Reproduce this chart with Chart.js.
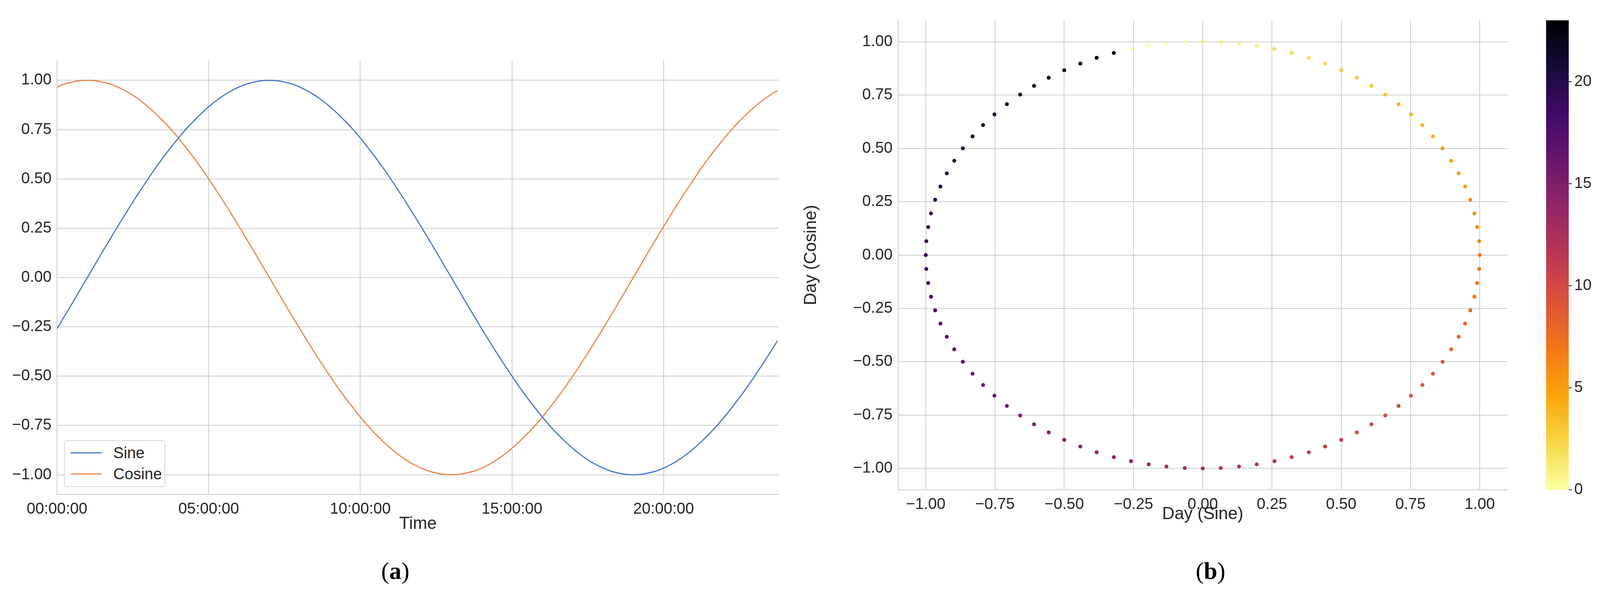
<!DOCTYPE html>
<html>
<head>
<meta charset="utf-8">
<script src="https://cdn.jsdelivr.net/npm/chart.js@4"></script>
<style>
  body { margin: 0; background: #fff; width: 4099px; height: 1517px; position: relative; overflow: hidden; font-family: "Liberation Sans", Arial, sans-serif; }
  canvas { position: absolute; }
  .cap { position: absolute; font-family: "Liberation Serif", "DejaVu Serif", serif; font-size: 62px; color: #000; transform: translateX(-50%); }
  #legend { position: absolute; left: 164px; top: 1126px; width: 255px; height: 116px; border: 2px solid #d6d6d6; border-radius: 6px; background: #fff; font-size: 40px; color: #262626; }
  .row { position: absolute; left: 15px; height: 40px; display: flex; align-items: center; }
  .row span.ln { display: inline-block; width: 79px; height: 3px; margin-right: 30px; }
</style>
</head>
<body>
<canvas id="left" style="left:0;top:0"></canvas>
<canvas id="right" style="left:2050px;top:0"></canvas>
<canvas id="cbar" style="left:3940px;top:0"></canvas>
<div id="legend">
  <div class="row" style="top:10px"><span class="ln" style="background:#4878d0"></span>Sine</div>
  <div class="row" style="top:64px"><span class="ln" style="background:#ee854a"></span>Cosine</div>
</div>
<div class="cap" style="left:1012px;top:1425px">(<b>a</b>)</div>
<div class="cap" style="left:3099px;top:1425px">(<b>b</b>)</div>
<script>
// time of day in hours, one sample every 15 minutes
const hours = [0,.25,.5,.75,1,1.25,1.5,1.75,2,2.25,2.5,2.75,3,3.25,3.5,3.75,4,4.25,4.5,4.75,5,5.25,5.5,5.75,
  6,6.25,6.5,6.75,7,7.25,7.5,7.75,8,8.25,8.5,8.75,9,9.25,9.5,9.75,10,10.25,10.5,10.75,11,11.25,11.5,11.75,
  12,12.25,12.5,12.75,13,13.25,13.5,13.75,14,14.25,14.5,14.75,15,15.25,15.5,15.75,16,16.25,16.5,16.75,17,17.25,17.5,17.75,
  18,18.25,18.5,18.75,19,19.25,19.5,19.75,20,20.25,20.5,20.75,21,21.25,21.5,21.75,22,22.25,22.5,22.75,23,23.25,23.5,23.75];
const sine = [-.259,-.195,-.131,-.065,
  0,.065,.131,.195,.259,.321,.383,.442,.5,.556,.609,.659,.707,.752,.793,.831,.866,.897,.924,.947,.966,.981,.991,.998,1,
  .998,.991,.981,.966,.947,.924,.897,.866,.831,.793,.752,.707,.659,.609,.556,.5,.442,.383,.321,.259,.195,.131,.065,0,
  -.065,-.131,-.195,-.259,-.321,-.383,-.442,-.5,-.556,-.609,-.659,-.707,-.752,-.793,-.831,-.866,-.897,-.924,-.947,-.966,-.981,-.991,-.998,-1,
  -.998,-.991,-.981,-.966,-.947,-.924,-.897,-.866,-.831,-.793,-.752,-.707,-.659,-.609,-.556,-.5,-.442,-.383,-.321];
const cosine = [.966,.981,.991,.998,1,
  .998,.991,.981,.966,.947,.924,.897,.866,.831,.793,.752,.707,.659,.609,.556,.5,.442,.383,.321,.259,.195,.131,.065,0,
  -.065,-.131,-.195,-.259,-.321,-.383,-.442,-.5,-.556,-.609,-.659,-.707,-.752,-.793,-.831,-.866,-.897,-.924,-.947,-.966,-.981,-.991,-.998,-1,
  -.998,-.991,-.981,-.966,-.947,-.924,-.897,-.866,-.831,-.793,-.752,-.707,-.659,-.609,-.556,-.5,-.442,-.383,-.321,-.259,-.195,-.131,-.065,0,
  .065,.131,.195,.259,.321,.383,.442,.5,.556,.609,.659,.707,.752,.793,.831,.866,.897,.924,.947];
const timeTicks = [0,5,10,15,20];
const valTicks = [-1,-.75,-.5,-.25,0,.25,.5,.75,1];
const cbarTicks = [0,5,10,15,20];

// inferno colormap stops
const inferno = ["#000004","#160b39","#420a68","#6a176e","#932667","#bc3754","#dd513a","#f37819","#fca50a","#f6d746","#fcffa4"];
function hexRgb(h){ return [1,3,5].map(i => parseInt(h.substr(i,2),16)); }
function colorFor(v){ // 0 -> light, 23 -> dark
  const t = Math.max(0, Math.min(1, 1 - v/23)) * (inferno.length-1);
  const i = Math.min(Math.floor(t), inferno.length-2), f = t - i;
  const a = hexRgb(inferno[i]), b = hexRgb(inferno[i+1]);
  return `rgb(${a.map((c,k)=>Math.round(c+(b[k]-c)*f)).join(",")})`;
}

Chart.defaults.font.family = '"Liberation Sans", Arial, sans-serif';
Chart.defaults.color = "#262626";
Chart.defaults.devicePixelRatio = 1;
Chart.defaults.animation = false;

const grid = { color: "#cccccc", lineWidth: 2, drawTicks: false };
const border = { color: "#cccccc", width: 2 };
const fix = list => (s => { s.ticks = list.map(v => ({value: v})); });
const fmt2 = v => (v < 0 ? "\u2212" : "") + Math.abs(v).toFixed(2);
const pad2 = n => String(n).padStart(2, "0");

function sizeCanvas(id, w, h){ const c = document.getElementById(id); c.width = w; c.height = h; c.style.width = w+"px"; c.style.height = h+"px"; return c; }

// (a) sine / cosine over the day
new Chart(sizeCanvas("left", 2050, 1517), {
  type: "line",
  data: { datasets: [
    { label: "Sine", data: hours.map((h,i)=>({x:h, y:sine[i]})), borderColor: "#4878d0", borderWidth: 3, pointRadius: 0, tension: 0.4 },
    { label: "Cosine", data: hours.map((h,i)=>({x:h, y:cosine[i]})), borderColor: "#ee854a", borderWidth: 3, pointRadius: 0, tension: 0.4 }
  ]},
  options: {
    responsive: false,
    layout: { padding: { top: 155, right: 56, bottom: 150, left: 0 } },
    plugins: { legend: { display: false }, tooltip: { enabled: false } },
    scales: {
      x: { type: "linear", min: 0, max: 23.8, grid, border, afterBuildTicks: fix(timeTicks),
           afterFit: s => { s.height = 102; },
           ticks: { font: { size: 40 }, padding: 14, maxRotation: 0, callback: v => pad2(v) + ":00:00" },
           title: { display: true, text: "Time", font: { size: 44 }, padding: 0 } },
      y: { min: -1.1, max: 1.1, grid, border, afterBuildTicks: fix(valTicks),
           afterFit: s => { s.width = 146; },
           ticks: { font: { size: 40 }, padding: 14, callback: fmt2 } }
    }
  }
});

// (b) sine vs cosine, coloured by hour
new Chart(sizeCanvas("right", 1850, 1517), {
  type: "scatter",
  data: { datasets: [{
    data: hours.map((h,i)=>({x:sine[i], y:cosine[i]})),
    pointRadius: 5, pointBorderWidth: 0,
    pointBackgroundColor: hours.map(h => colorFor(Math.floor(h)))
  }]},
  options: {
    responsive: false,
    layout: { padding: { top: 52, right: 41, bottom: 175, left: 0 } },
    plugins: { legend: { display: false }, tooltip: { enabled: false } },
    scales: {
      x: { min: -1.1, max: 1.1, grid, border, afterBuildTicks: fix(valTicks),
           afterFit: s => { s.height = 89; },
           ticks: { font: { size: 40 }, padding: 14, maxRotation: 0, callback: fmt2 },
           title: { display: true, text: "Day (Sine)", font: { size: 44 }, padding: 0 } },
      y: { min: -1.1, max: 1.1, grid, border, afterBuildTicks: fix(valTicks),
           afterFit: s => { s.width = 249; },
           ticks: { font: { size: 40 }, padding: 14, callback: fmt2 },
           title: { display: true, text: "Day (Cosine)", font: { size: 44 }, padding: 0 } }
    }
  }
});

// colour bar
const gradientFill = {
  id: "gradientFill",
  beforeDraw(chart){
    const { ctx, chartArea: a, scales } = chart;
    const g = ctx.createLinearGradient(0, a.bottom, 0, a.top);
    for (let k = 0; k <= 46; k++) { const v = k/2; g.addColorStop((scales.y.getPixelForValue(v) - a.bottom)/(a.top - a.bottom), colorFor(v)); }
    ctx.save(); ctx.fillStyle = g; ctx.fillRect(a.left, a.top, a.right - a.left, a.bottom - a.top); ctx.restore();
  }
};
new Chart(sizeCanvas("cbar", 159, 1517), {
  type: "scatter",
  data: { datasets: [{ data: [] }] },
  plugins: [gradientFill],
  options: {
    responsive: false,
    layout: { padding: { top: 52, right: 0, bottom: 264, left: 18 } },
    plugins: { legend: { display: false }, tooltip: { enabled: false } },
    scales: {
      x: { display: false, min: 0, max: 1 },
      y: { position: "right", min: 0, max: 23, afterBuildTicks: fix(cbarTicks),
           afterFit: s => { s.width = 83; },
           grid: { drawOnChartArea: false, drawTicks: true, tickLength: 8, color: "#262626", lineWidth: 2 },
           border: { display: false },
           ticks: { font: { size: 40 }, padding: 6 } }
    }
  }
});
</script>
</body>
</html>
